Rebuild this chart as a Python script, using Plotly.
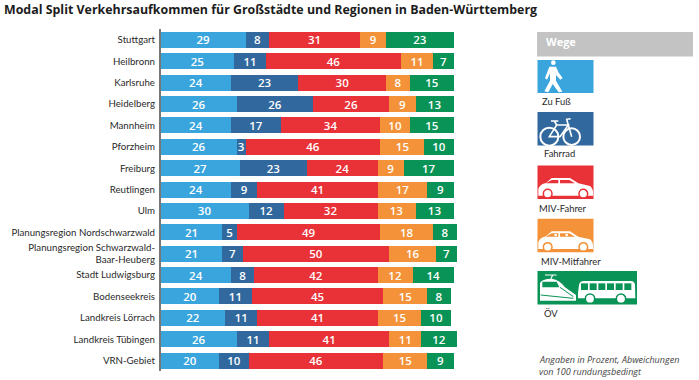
import re
import plotly.graph_objects as go

W, H = 699, 380
categories = ["Stuttgart", "Heilbronn", "Karlsruhe", "Heidelberg", "Mannheim", "Pforzheim", "Freiburg",
              "Reutlingen", "Ulm", "Planungsregion Nordschwarzwald",
              "Planungsregion Schwarzwald-<br>Baar-Heuberg", "Stadt Ludwigsburg", "Bodenseekreis",
              "Landkreis Lörrach", "Landkreis Tübingen", "VRN-Gebiet"]
zu_fuss = [29, 25, 24, 26, 24, 26, 27, 24, 30, 21, 21, 24, 20, 22, 26, 20]
fahrrad = [8, 11, 23, 26, 17, 3, 23, 9, 12, 5, 7, 8, 11, 11, 11, 10]
miv_fahrer = [31, 46, 30, 26, 34, 46, 24, 41, 32, 49, 50, 42, 45, 41, 41, 46]
miv_mitfahrer = [9, 11, 8, 9, 10, 15, 9, 17, 13, 18, 16, 12, 15, 15, 11, 15]
oev = [23, 7, 15, 13, 15, 10, 17, 9, 13, 8, 7, 14, 8, 10, 12, 9]
series_names = ["Zu Fuß", "Fahrrad", "MIV-Fahrer", "MIV-Mitfahrer", "ÖV"]
colors = ["#3aa5dc", "#31689e", "#e93138", "#f39239", "#0a9356"]
FONT = "Open Sans"
LABEL_FONT = "Lato"

fig = go.Figure()
for name, vals, col in zip(series_names, [zu_fuss, fahrrad, miv_fahrer, miv_mitfahrer, oev], colors):
    fig.add_trace(go.Bar(y=categories, x=vals, name=name, orientation="h", marker=dict(color=col, line_width=0),
                         text=vals, textposition="inside", insidetextanchor="middle", textangle=0,
                         constraintext="none", cliponaxis=False,
                         textfont=dict(color="white", size=11.5, family=FONT, weight=600), hoverinfo="skip"))

# Icon helpers: paths are given in pixels of a 3x crop relative to (ox, oy)
def conv(path, ox, oy):
    def rep(m):
        x = ox + float(m.group(1)) / 3
        y = oy + float(m.group(2)) / 3
        return f"{x / W:.5f},{1 - y / H:.5f}"
    return re.sub(r"(-?[\d.]+),(-?[\d.]+)", rep, path)

shapes, annots = [], []
def rect(x0, y0, x1, y1, col):
    shapes.append(dict(type="rect", xref="paper", yref="paper", x0=x0 / W, x1=x1 / W, y0=1 - y0 / H, y1=1 - y1 / H,
                       fillcolor=col, line_width=0, layer="above"))
def path(d, ox, oy, fill=None, stroke=None, w=0):
    shapes.append(dict(type="path", xref="paper", yref="paper", path=conv(d, ox, oy), layer="above",
                       fillcolor=fill if fill else "rgba(0,0,0,0)",
                       line=dict(color=stroke if stroke else "rgba(0,0,0,0)", width=w)))
def circle(cx, cy, r, ox, oy, fill=None, stroke=None, w=0):
    x, y = ox + cx / 3, oy + cy / 3
    r = r / 3
    shapes.append(dict(type="circle", xref="paper", yref="paper", x0=(x - r) / W, x1=(x + r) / W,
                       y0=1 - (y - r) / H, y1=1 - (y + r) / H, layer="above",
                       fillcolor=fill if fill else "rgba(0,0,0,0)",
                       line=dict(color=stroke if stroke else "rgba(0,0,0,0)", width=w)))
def label(text, x, y, size=9.5, color="#2a2a2a", family=FONT):
    annots.append(dict(text=text, x=x / W, y=1 - y / H, xref="paper", yref="paper", xanchor="left", yanchor="middle",
                       showarrow=False, font=dict(family=family, size=size, color=color)))

OX, OY = 510, 20
# Header
rect(537, 32, 693, 56.5, "#c2c3c2")
label("<b>Wege</b>", 544, 41, size=11, color="white")
# Pedestrian
rect(537.5, 60, 593.5, 93, colors[0])
circle(130, 128, 7, OX, OY, fill="white")
path("M118,140 L138,140 L146,158 L158,174 L151,179 L138,165 L138,182 L157,215 L146,217 L128,192 L115,217 L103,214 L120,182 L120,160 L111,179 L105,174 Z",
     OX, OY, fill="white")
# Bicycle
rect(537.5, 112, 593.5, 145.5, colors[1])
circle(118, 350, 27, OX, OY, stroke="white", w=2)
circle(185, 350, 25, OX, OY, stroke="white", w=2)
path("M118,350 L140,315 L175,315 L150,350 Z M140,315 L133,303 M123,303 L145,303 M185,350 L170,298 L182,296", OX, OY, stroke="white", w=1.6)
# Car
def car(dy, col, heads=False):
    rect(537.5, 165.5 + dy, 593.5, 199 + dy, col)
    path("M85,527 L85,507 Q90,492 108,489 L125,474 L180,474 L205,490 L240,498 Q250,505 250,527 Z", OX, OY + dy, fill="white")
    path("M107,490 L125,480 L145,480 L145,490 Z", OX, OY + dy, fill=col)
    path("M150,480 L178,480 L195,490 L150,490 Z", OX, OY + dy, fill=col)
    circle(113, 521, 13, OX, OY + dy, fill="white", stroke=col, w=1.5)
    circle(220, 521, 13, OX, OY + dy, fill="white", stroke=col, w=1.5)
    if heads:
        circle(137, 485, 4, OX, OY + dy, fill="white")
        circle(170, 485, 4, OX, OY + dy, fill="white")
car(0, colors[2])
car(53.3, colors[3], heads=True)
# Train and bus
X3, Y3 = 510, 200
rect(537.5, 271, 637, 304.5, colors[4])
path("M90,302 L90,250 Q95,236 125,236 Q150,240 165,262 L198,285 L198,302 Z", X3, Y3, fill="white")
path("M105,225 L140,225 M123,236 L128,225", X3, Y3, stroke="white", w=1.2)
path("M97,245 L140,245 L148,262 L97,262 Z", X3, Y3, fill=colors[4])
path("M150,262 L190,290 M92,285 L190,295", X3, Y3, stroke=colors[4], w=1)
path("M204,280 L207,255 Q209,243 222,243 L362,243 Q374,243 375,255 L376,295 L204,295 Z", X3, Y3, fill="white")
for wx in [213, 239, 265, 291, 317, 343]:
    path(f"M{wx},250 L{wx + 21},250 L{wx + 21},270 L{wx},270 Z", X3, Y3, fill=colors[4])
circle(240, 296, 14, X3, Y3, fill="white", stroke=colors[4], w=1.5)
circle(333, 296, 14, X3, Y3, fill="white", stroke=colors[4], w=1.5)
# Legend text
for name, x, y in zip(series_names, [540, 542, 537, 539, 542], [102, 154, 208, 261, 313]):
    label(name, x, y, size=9.4, family=LABEL_FONT)
label("<i>Angaben in Prozent, Abweichungen</i>", 537, 359.5, size=9, color="#444444")
label("<i>von 100 rundungsbedingt</i>", 537, 371, size=9, color="#444444")
# Title
label("<b>Modal Split Verkehrsaufkommen für Großstädte und Regionen in Baden-Württemberg</b>", 2, 10, size=12.4, color="#1c1c1c")

PX_PER_UNIT = 2.93
RANGE_MAX = 110
fig.update_layout(
    width=W, height=H, margin=dict(l=0, r=0, t=0, b=0), paper_bgcolor="white", plot_bgcolor="white",
    barmode="stack", bargap=0.25, showlegend=False, shapes=shapes, annotations=annots,
    xaxis=dict(domain=[160.7 / W, (160.7 + PX_PER_UNIT * RANGE_MAX) / W], range=[0, RANGE_MAX], visible=False),
    yaxis=dict(domain=[1 - 371.2 / H, 1 - 29.3 / H], autorange="reversed", automargin=False, showgrid=False,
               showline=True, linecolor="#777777", linewidth=1.5, ticks="", ticklabelstandoff=2,
               tickfont=dict(family=LABEL_FONT, size=9.7, color="#2a2a2a")),
)
fig.write_html("out.html", post_script="document.body.style.margin='0';", config={"displayModeBar": False})
